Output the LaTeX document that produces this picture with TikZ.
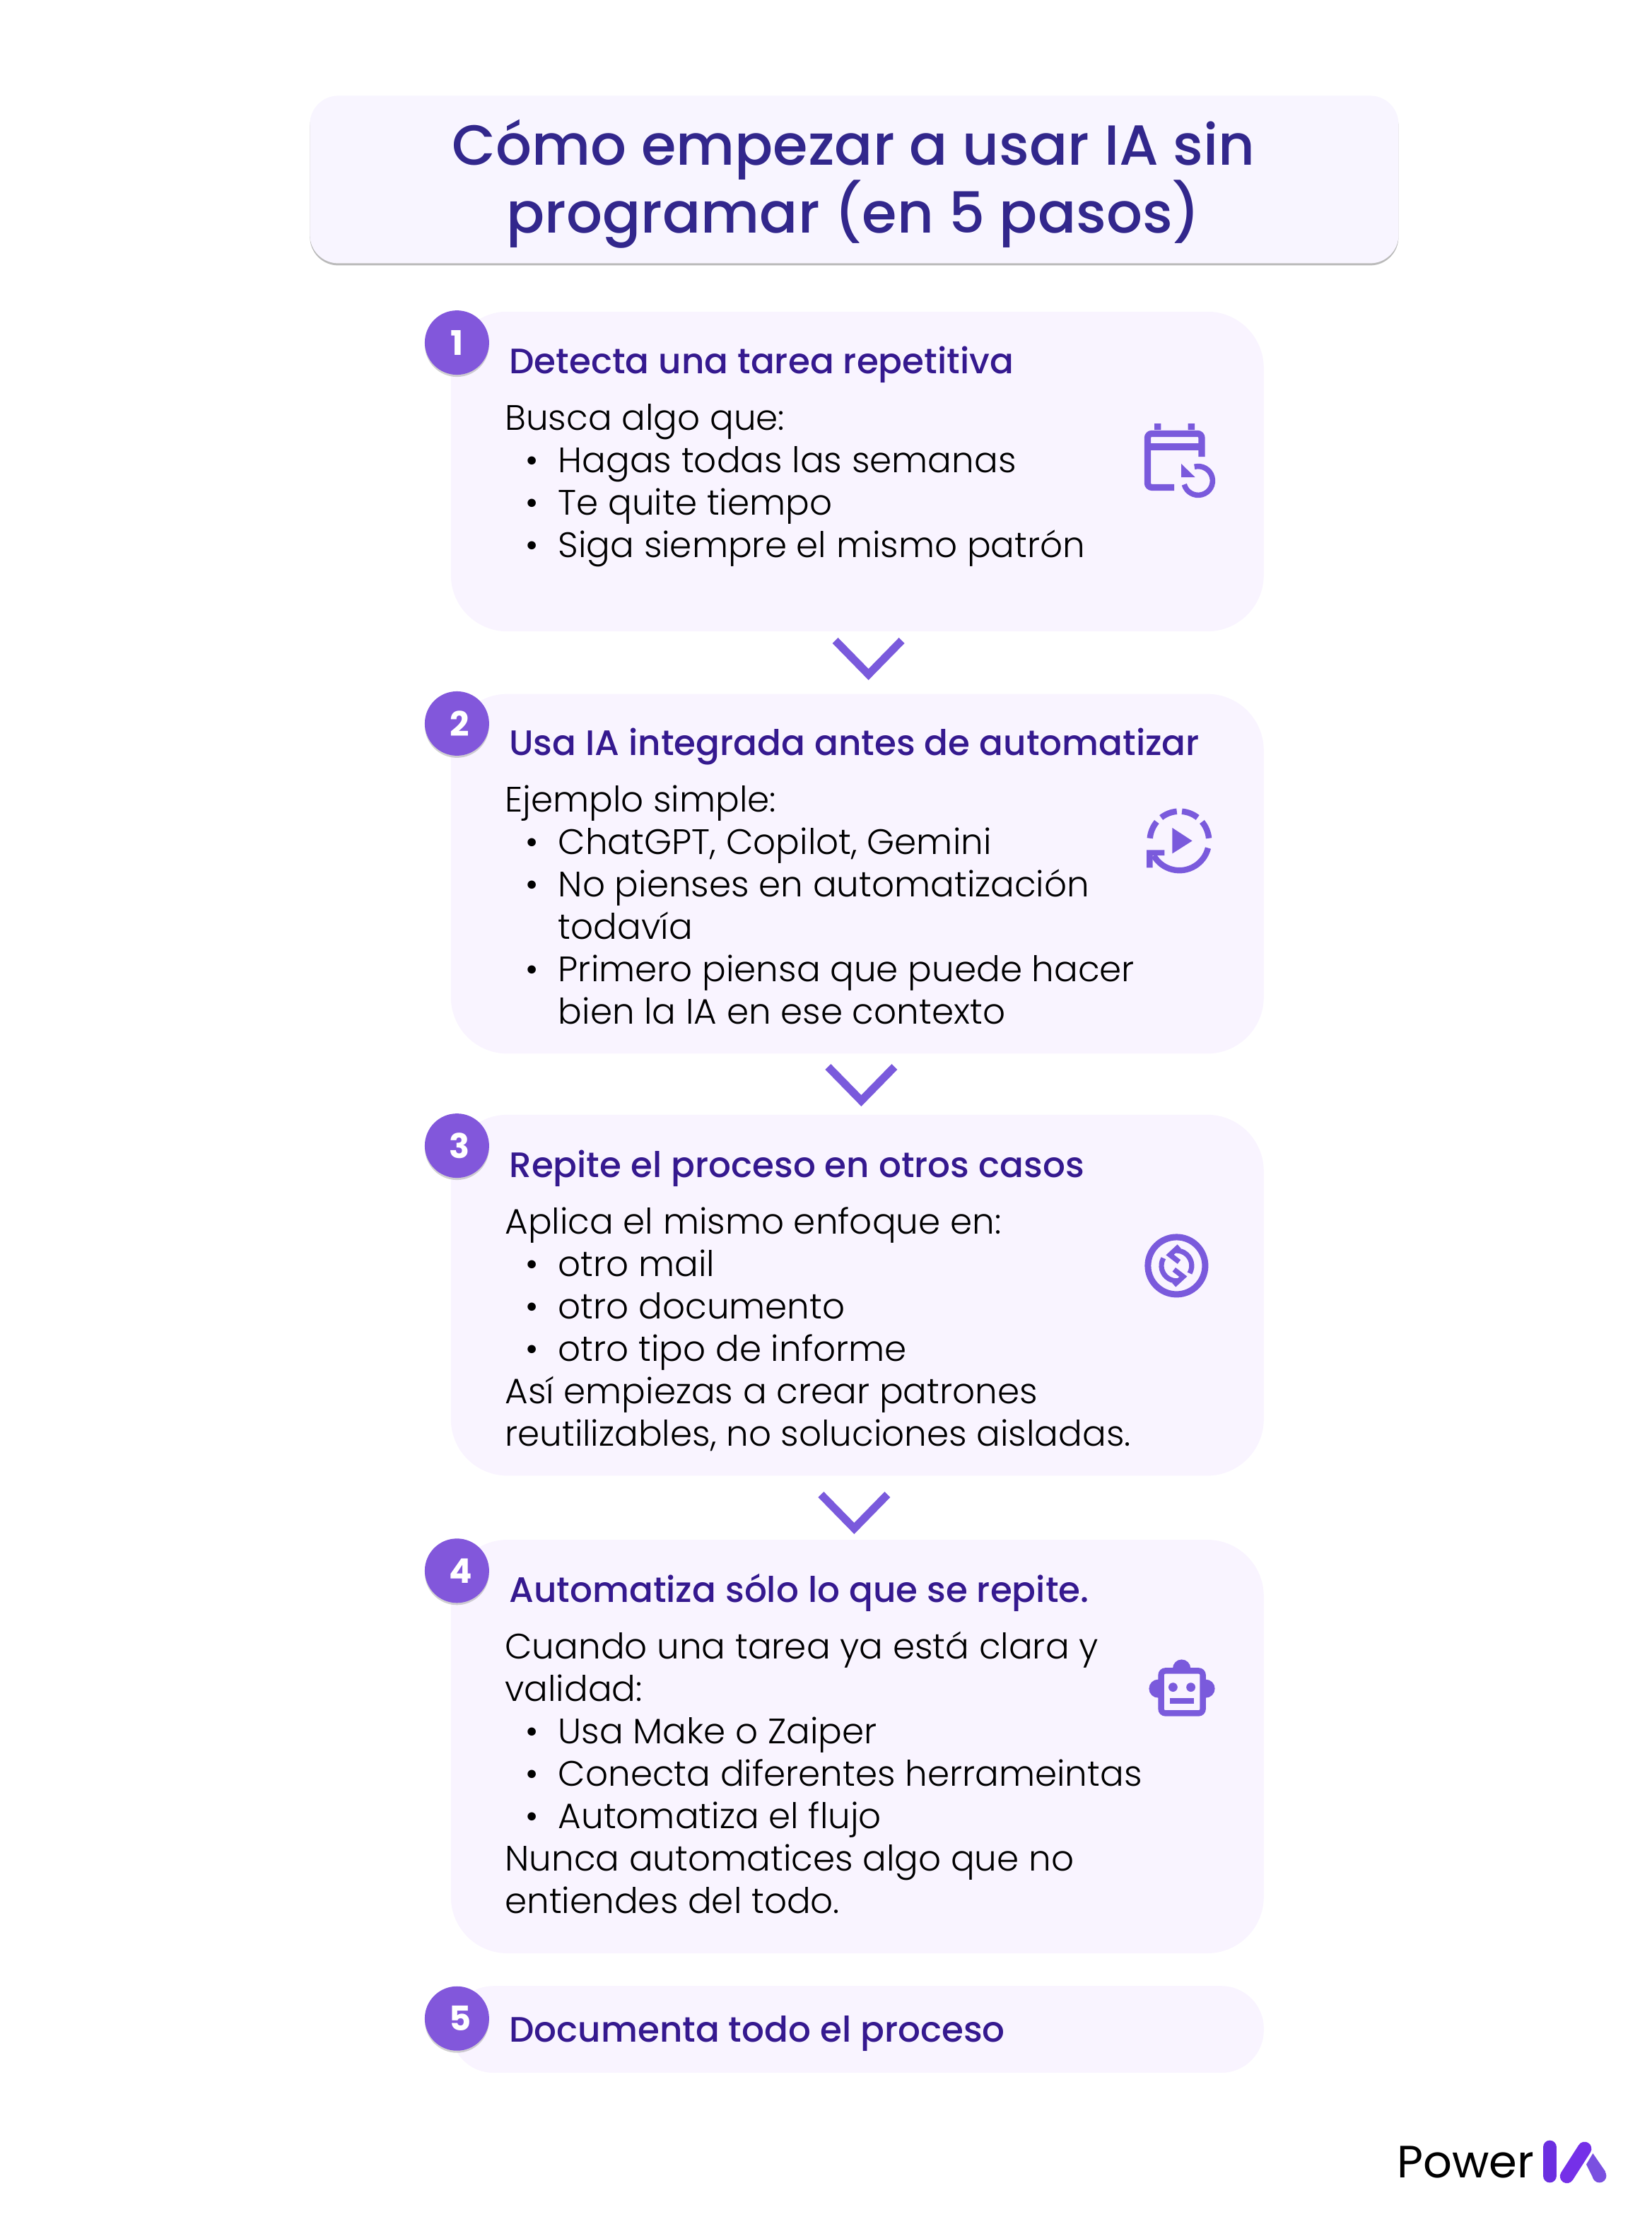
\documentclass[tikz,border=0pt]{standalone}
\usepackage{fontspec}
\setmainfont{Poppins}
\newfontfamily\lightfont{Poppins Light}
\newfontfamily\mediumfont{Poppins Medium}
\newfontfamily\boldfont{Poppins Bold}
\usetikzlibrary{shadows}
\definecolor{cardbg}{HTML}{F9F4FF}
\definecolor{titlebg}{HTML}{F8F5FF}
\definecolor{titleink}{HTML}{32278C}
\definecolor{headink}{HTML}{35198F}
\definecolor{badgebg}{HTML}{8257DB}
\definecolor{iconink}{HTML}{7A5ADC}
\definecolor{logoa}{HTML}{6B2FE0}
\definecolor{logob}{HTML}{7530E8}
\definecolor{logoc}{HTML}{7A50E0}
\tikzset{
    card/.style={fill=cardbg, rounded corners=40pt, anchor=north west, inner sep=0pt},
    badge/.style={circle, fill=badgebg, text=white, minimum size=45.5pt, inner sep=0pt,
        font=\boldfont\fontsize{24}{24}\selectfont,
        drop shadow={shadow xshift=0pt, shadow yshift=-1.5pt, fill=black!40, opacity=0.45}},
    headtext/.style={anchor=base west, inner sep=0pt, text=headink,
        font=\mediumfont\fontsize{25}{30}\selectfont},
    bodytext/.style={anchor=north west, inner sep=0pt, align=left, text=black,
        font=\lightfont\fontsize{25}{30}\selectfont},
    iconline/.style={draw=iconink, line width=4.6pt},
    chevron/.style={draw=iconink, line width=5.6pt, miter limit=10}
}
\newcommand{\itm}{\makebox[37.7pt][l]{\hspace{14.5pt}•}}
\newcommand{\cont}{\hspace*{37.7pt}}
\begin{document}
\begin{tikzpicture}[x=1pt, y=-1pt]
    \useasboundingbox (0,0) rectangle (1168,1576.5);

    % title
    \node[fill=titlebg, rounded corners=20pt, minimum width=770pt, minimum height=118.5pt,
        anchor=north west, inner sep=0pt,
        drop shadow={shadow xshift=0pt, shadow yshift=-1.5pt, fill=black!45, opacity=0.6}]
        (titlebox) at (219,67.5) {};
    \node[anchor=base, inner sep=0pt, text=titleink,
        font=\mediumfont\fontsize{40}{48}\selectfont] (title1) at (603.7,116.7) {Cómo empezar a usar IA sin};
    \node[anchor=base, inner sep=0pt, text=titleink,
        font=\mediumfont\fontsize{40}{48}\selectfont] (title2) at (603.7,164.7) {programar (en 5 pasos)};

    % cards
    \node[card, minimum width=575pt, minimum height=226.2pt] (card1) at (318.7,220.2) {};
    \node[card, minimum width=575pt, minimum height=254.4pt] (card2) at (318.7,490.6) {};
    \node[card, minimum width=575pt, minimum height=255.3pt] (card3) at (318.7,788.2) {};
    \node[card, minimum width=575pt, minimum height=292.5pt] (card4) at (318.7,1088.8) {};
    \node[card, minimum width=575pt, minimum height=61.4pt, rounded corners=30pt] (card5) at (318.7,1404.4) {};

    % number badges
    \foreach \n/\by/\gap in {1/242.3/0, 2/511.7/4, 3/810.3/4, 4/1110.9/5, 5/1427.6/5}
        \node[badge] (badge\n) at (323.2,\by) {\hspace{\gap pt}\n};

    % chevrons between cards
    \foreach \cx/\cy in {614.3/453, 609.2/754.5, 604.2/1057}
        \draw[chevron] (\cx-23.5,\cy) -- (\cx,\cy+24) -- (\cx+23.5,\cy);

    % headings
    \node[headtext] (head1) at (360,264) {Detecta una tarea repetitiva};
    \node[headtext] (head2) at (360,534.3) {Usa IA integrada antes de automatizar};
    \node[headtext] (head3) at (360,832.7) {Repite el proceso en otros casos};
    \node[headtext] (head4) at (360,1133.2) {Automatiza sólo lo que se repite.};
    \node[headtext] (head5) at (360,1444.3) {Documenta todo el proceso};

    % body text
    \node[bodytext] (body1) at (357,283) {\strut Busca algo que:\\
        \itm Hagas todas las semanas\\
        \itm Te quite tiempo\\
        \itm Siga siempre el mismo patrón};
    \node[bodytext] (body2) at (357,553) {\strut Ejemplo simple:\\
        \itm ChatGPT, Copilot, Gemini\\
        \itm No pienses en automatización\\
        \cont todavía\\
        \itm Primero piensa que puede hacer\\
        \cont bien la IA en ese contexto};
    \node[bodytext] (body3) at (357,851.7) {\strut Aplica el mismo enfoque en:\\
        \itm otro mail\\
        \itm otro documento\\
        \itm otro tipo de informe\\
        Así empiezas a crear patrones\\
        reutilizables, no soluciones aisladas.};
    \node[bodytext] (body4) at (357,1152) {\strut Cuando una tarea ya está clara y\\
        validad:\\
        \itm Usa Make o Zaiper\\
        \itm Conecta diferentes herrameintas\\
        \itm Automatiza el flujo\\
        Nunca automatices algo que no\\
        entiendes del todo.};

    % icon 1: calendar
    \fill[iconink] (816.5,299.5) rectangle (821.2,304) (840.3,299.5) rectangle (845,304);
    \draw[iconline, rounded corners=3pt] (830.5,344.7) -- (811.7,344.7) -- (811.7,306.7) -- (850,306.7) -- (850,323);
    \draw[iconline] (811.7,316) -- (850,316);
    \begin{scope}[shift={(847.5,340)}, y=1pt]
        \draw[iconink, line width=3.8pt] (195:10.2) arc[start angle=195, end angle=465, radius=10.2];
    \end{scope}
    \fill[iconink] (835.5,328) -- (835.5,337.5) -- (845.3,337.5) -- cycle;

    % icon 2: play
    \begin{scope}[shift={(834.2,594.7)}, y=1pt]
        \foreach \sa/\ea in {95/128, 52/85, 5/40, 140/175}
            \draw[iconink, line width=4.2pt] (\sa:20.9) arc[start angle=\sa, end angle=\ea, radius=20.9];
        \draw[iconink, line width=4.2pt] (-14:20.9) arc[start angle=-14, end angle=-150, radius=20.9];
    \end{scope}
    \fill[iconink] (811,601.2) -- (823.7,601.2) -- (823.7,605) -- (815.3,605) -- (815.3,613.7) -- (811,613.7) -- cycle;
    \fill[iconink] (829.2,585.5) -- (829.2,603.7) -- (843.3,594.7) -- cycle;

    % icon 3: sync
    \draw[iconink, line width=4.5pt] (832.2,895.2) circle (20.25);
    \begin{scope}[shift={(832.2,895.2)}, y=1pt]
        \draw[iconink, line width=3.6pt] (-30:10.7) arc[start angle=-30, end angle=100, radius=10.7];
        \draw[iconink, line width=3.6pt] (150:10.7) arc[start angle=150, end angle=280, radius=10.7];
    \end{scope}
    \draw[iconink, line width=3.6pt] (834,881.5) -- (827.5,887.5) -- (834,892.5);
    \draw[iconink, line width=3.6pt] (830.4,908.9) -- (836.9,902.9) -- (830.4,897.9);

    % icon 4: robot
    \fill[iconink] (835.8,1180) circle (6.3) (819.2,1194.3) circle (6.5) (852.8,1194.3) circle (6.5);
    \draw[iconink, fill=cardbg, line width=4.2pt, rounded corners=3pt] (821.3,1181.7) rectangle (850.8,1211.7);
    \fill[iconink] (829.7,1193.3) circle (3.2) (842.3,1193.3) circle (3.2);
    \fill[iconink] (827.5,1200.8) rectangle (844.7,1205);

    % logo
    \node[anchor=base west, inner sep=0pt, font=\fontsize{32}{32}\selectfont] (logotext) at (988,1540) {Power};
    \draw[logoa, line width=9.8pt, line cap=round] (1096.2,1518.7) -- (1096.2,1538.8);
    \draw[logob, line width=9.8pt, line cap=round] (1120.8,1519.7) -- (1108.3,1539.2);
    \fill[logoc] (1126.7,1523) -- (1135.5,1535.8) -- (1127.2,1541.3) -- (1122,1530.8) -- cycle;
    \fill[logoc] (1131.3,1538.8) circle (4.9);
\end{tikzpicture}
\end{document}
